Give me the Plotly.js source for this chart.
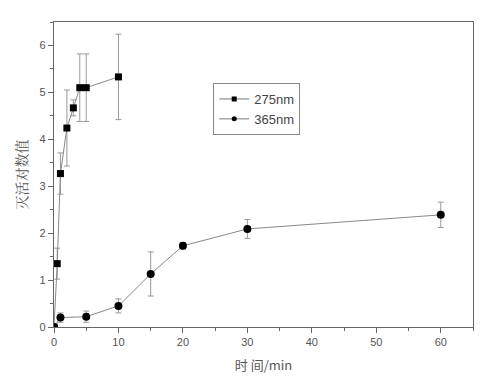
<!DOCTYPE html>
<html><head><meta charset="utf-8">
<script src="https://cdn.plot.ly/plotly-3.0.1.min.js"></script>
<style>html,body{margin:0;padding:0;background:#fff}</style>
</head><body>
<div id="chart" style="width:502px;height:378px"></div>
<script>
const x275 = [0, 0.5, 1, 2, 3, 4, 5, 10];
const y275 = [0, 1.35, 3.27, 4.24, 4.67, 5.1, 5.1, 5.33];
const e275 = [0, 0.33, 0.44, 0.81, 0.17, 0.72, 0.72, 0.91];
const x365 = [0, 1, 5, 10, 15, 20, 30, 60];
const y365 = [0, 0.2, 0.22, 0.45, 1.13, 1.73, 2.09, 2.39];
const e365 = [0, 0.1, 0.12, 0.15, 0.47, 0.07, 0.2, 0.27];
const names = ['275nm', '365nm'];
const xTitle = '时 间/min';
const yTitle = '灭活对数值';

const axCol = '#666';
const sans = 'Liberation Sans, Arial, sans-serif';
const traces = [
  {x: x275, y: y275, name: names[0], mode: 'lines+markers', type: 'scatter', showlegend: false,
   line: {color: '#888', width: 1},
   marker: {symbol: 'square', size: 7, color: '#000'},
   error_y: {type: 'data', array: e275, visible: true, color: '#999', thickness: 1, width: 3}},
  {x: x365, y: y365, name: names[1], mode: 'lines+markers', type: 'scatter', showlegend: false,
   line: {color: '#888', width: 1},
   marker: {symbol: 'circle', size: 8, color: '#000'},
   error_y: {type: 'data', array: e365, visible: true, color: '#999', thickness: 1, width: 3}},
  {x: [null], y: [null], name: names[0], mode: 'lines+markers', type: 'scatter',
   line: {color: '#777', width: 1}, marker: {symbol: 'square', size: 5, color: '#000'}},
  {x: [null], y: [null], name: names[1], mode: 'lines+markers', type: 'scatter',
   line: {color: '#777', width: 1}, marker: {symbol: 'circle', size: 5, color: '#000'}}
];
const layout = {
  width: 502, height: 378,
  margin: {l: 54, r: 29, t: 22, b: 51},
  paper_bgcolor: '#fff', plot_bgcolor: '#fff',
  font: {family: sans, size: 11, color: '#555'},
  showlegend: true,
  legend: {x: 0.38, y: 0.80, xanchor: 'left', yanchor: 'top',
    bordercolor: '#888', borderwidth: 1, bgcolor: '#fff',
    font: {family: sans, size: 13, color: '#444'},
    tracegroupgap: 0, itemwidth: 30},
  xaxis: {range: [0, 65], tickvals: [0, 10, 20, 30, 40, 50, 60],
    showgrid: false, zeroline: false, showline: true, mirror: true,
    linecolor: axCol, linewidth: 1.2, ticks: 'outside', ticklen: 5, tickcolor: axCol,
    minor: {dtick: 5, tick0: 0, ticks: 'outside', ticklen: 3, tickcolor: axCol},
    tickfont: {family: sans, size: 11, color: '#555'},
    title: {text: xTitle, standoff: 13,
      font: {family: 'Noto Sans CJK SC, sans-serif', size: 13, color: '#555'}}},
  yaxis: {range: [0, 6.5], tickvals: [0, 1, 2, 3, 4, 5, 6],
    showgrid: false, zeroline: false, showline: true, mirror: true,
    linecolor: axCol, linewidth: 1.2, ticks: 'outside', ticklen: 5, tickcolor: axCol,
    minor: {dtick: 0.5, tick0: 0, ticks: 'outside', ticklen: 3, tickcolor: axCol},
    tickfont: {family: sans, size: 11, color: '#555'},
    title: {text: yTitle, standoff: 8,
      font: {family: 'Noto Serif CJK SC, Noto Sans CJK SC, serif', size: 14, color: '#555'}}}
};
Plotly.newPlot('chart', traces, layout, {displayModeBar: false, staticPlot: true});
</script>
</body></html>
